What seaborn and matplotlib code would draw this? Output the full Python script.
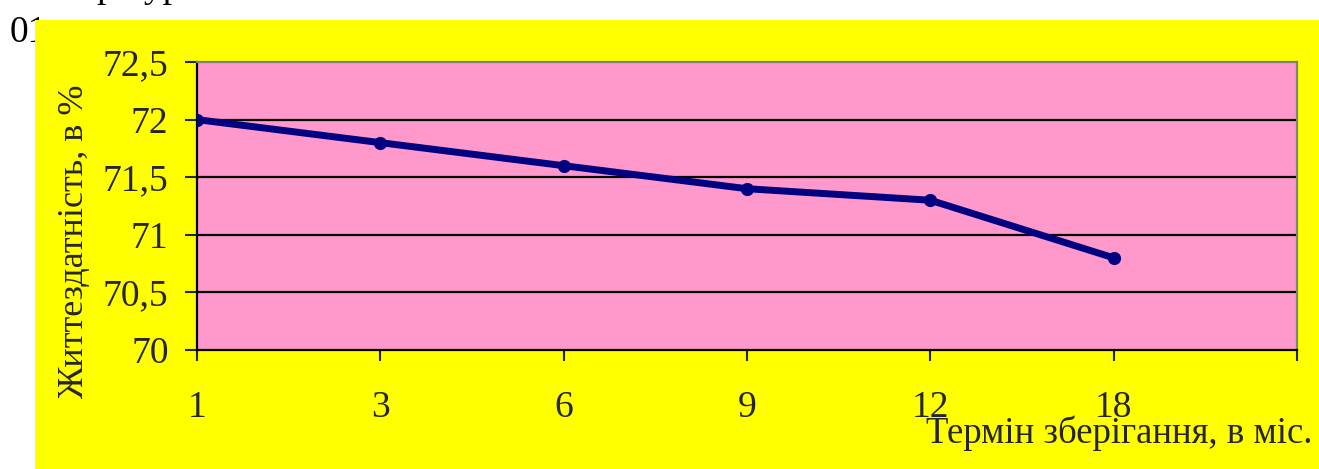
import numpy as np
import matplotlib
matplotlib.use('Agg')
import matplotlib.pyplot as plt
from matplotlib.patches import Rectangle
from matplotlib.ticker import FuncFormatter
import seaborn as sns

# Data
months = ['1', '3', '6', '9', '12', '18']
viability = [72.0, 71.8, 71.6, 71.4, 71.3, 70.8]
y_ticks = [70, 70.5, 71, 71.5, 72, 72.5]

sns.set_style('white')
plt.rcParams['font.family'] = ['Liberation Serif', 'DejaVu Serif']

fig = plt.figure(figsize=(13.19, 4.69), dpi=100)
fig.patch.set_facecolor('white')

# fragments of surrounding page text, partly hidden by the chart frame
fig.text(10 / 1319, 1 - 42 / 469, '01', fontsize=27, color='black',
         va='baseline', zorder=0)
fig.text(97 / 1319, 1 + 3 / 469, 'р   ур', fontsize=27, color='black',
         va='baseline', zorder=0)

# yellow chart area
fig.patches.append(Rectangle((35 / 1319, 0), 1 - 35 / 1319, 1 - 20 / 469,
                             transform=fig.transFigure, facecolor='#FFFF00',
                             edgecolor='none', zorder=1))

ax = fig.add_axes([197 / 1319, 1 - 350 / 469, 1100 / 1319, 288 / 469])
ax.set_facecolor('#FF99CC')
ax.set_zorder(2)

sns.lineplot(x=months, y=viability, sort=False, ax=ax, color='#000080',
             linewidth=5, marker='o', markersize=9.5, markeredgewidth=0,
             zorder=3)

ax.set_xlim(0, 6)
ax.set_ylim(70, 72.5)
ax.set_xticks(range(7))
ax.set_xticklabels(months + [''])
ax.set_yticks(y_ticks)
ax.yaxis.set_major_formatter(FuncFormatter(lambda v, p: f'{v:g}'.replace('.', ',')))

for y in y_ticks[1:-1]:
    ax.axhline(y, color='black', linewidth=1.6, zorder=1)

ax.tick_params(axis='x', direction='out', length=8, width=1.5, pad=21,
               labelsize=27, bottom=True)
ax.tick_params(axis='y', direction='out', length=8.5, width=1.5, pad=12,
               labelsize=27, left=True)

for side in ['left', 'bottom']:
    ax.spines[side].set_color('black')
    ax.spines[side].set_linewidth(1.6)
for side in ['top', 'right']:
    ax.spines[side].set_color('#808080')
    ax.spines[side].set_linewidth(1.6)

ax.set_xlabel('')
ax.set_ylabel('')
fig.text(75 / 1319, 1 - 242 / 469, 'Життездатність, в %', rotation=90,
         ha='center', va='center', fontsize=26, zorder=3)
fig.text(1312 / 1319, 1 - 433 / 469, 'Термін зберігання, в міс.',
         ha='right', va='center', fontsize=26.5, zorder=3)

fig.savefig('out.png', dpi=100, facecolor='white')
